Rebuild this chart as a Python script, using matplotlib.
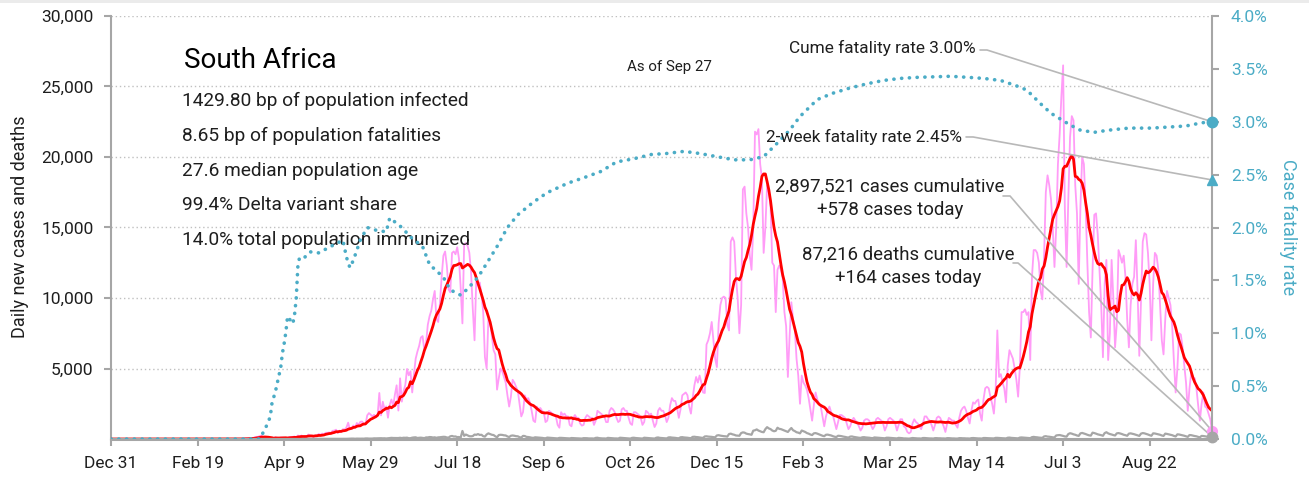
import matplotlib
matplotlib.use("Agg")
import numpy as np
import pandas as pd
import matplotlib.pyplot as plt
import matplotlib.dates as mdates
from matplotlib import font_manager as fm
from matplotlib.patches import Rectangle
from matplotlib.ticker import FixedLocator, FuncFormatter

# ---------------------------------------------------------------- fonts
_names = {f.name for f in fm.fontManager.ttflist}
if "Liberation Sans Narrow" in _names:
    FAMILY = "Liberation Sans Narrow"
    SIZES = dict(tick=14.5, axis=15, title=24, profile=17, note=12.5,
                 callout=15, callout2=15)
else:
    FAMILY = "Roboto"
    SIZES = dict(tick=12.5, axis=13, title=20, profile=13.8, note=10.8,
                 callout=12.4, callout2=13.4)
plt.rcParams["font.family"] = [FAMILY, "DejaVu Sans"]

# ---------------------------------------------------------------- data
country = "South Africa"
as_of = "As of Sep 27"
profile_lines = [
    "1429.80 bp of population infected",
    "8.65 bp of population fatalities",
    "27.6 median population age",
    "99.4% Delta variant share",
    "14.0% total population immunized",
]
period_start = "2019-12-31"
last_day = "2021-09-27"

cume_cases = 2897521
cume_deaths = 87216
cume_cfr = 3.00
two_week_cfr = 2.45

# daily new cases, one row per week (Sun..Sat), from 2020-03-01 to the last day
daily_cases = [
    0, 0, 0, 0, 1, 0, 1,
    1, 0, 4, 6, 3, 7, 14,
    13, 11, 23, 31, 34, 52, 38,
    34, 128, 152, 155, 218, 243, 17,
    93, 73, 82, 27, 82, 43, 123,
    63, 68, 99, 96, 89, 69, 25,
    145, 143, 148, 178, 99, 251, 142,
    251, 138, 196, 165, 318, 267, 188,
    143, 263, 247, 354, 297, 385, 304,
    447, 437, 463, 424, 583, 595, 661,
    424, 595, 511, 698, 665, 817, 1160,
    676, 767, 958, 803, 1134, 1003, 1218,
    1240, 1065, 1032, 1673, 1837, 1727, 1605,
    1716, 1525, 1674, 3267, 1674, 2642, 2125,
    2312, 1509, 2430, 2801, 2336, 3147, 3809,
    2018, 4302, 2648, 3388, 3825, 4966, 4516,
    4800, 3300, 4600, 5700, 6200, 6600, 7200,
    7300, 6300, 6800, 8100, 8700, 9100, 9900,
    10500, 8500, 8300, 9600, 11500, 13000, 13300,
    12300, 10600, 10400, 13200, 13300, 13100, 13600,
    12800, 10700, 8200, 13800, 13900, 13700, 13200,
    11800, 9200, 7000, 11300, 11000, 11100, 10300,
    9000, 5800, 5000, 8500, 8300, 7300, 6300,
    6000, 3500, 4300, 5000, 4800, 4400, 4000,
    3100, 2300, 3000, 4200, 4000, 3700, 3400,
    2500, 1600, 1900, 3100, 2800, 2900, 2600,
    2000, 1300, 1200, 2300, 2100, 2200, 2000,
    1900, 1200, 1300, 2000, 1900, 1800, 1700,
    1600, 1000, 800, 1900, 1700, 1800, 1600,
    1600, 1000, 900, 1500, 1700, 1500, 1500,
    1100, 950, 1000, 1500, 1700, 1600, 1500,
    1500, 1000, 1300, 2000, 1900, 1800, 1700,
    1600, 1200, 1200, 2000, 2200, 2100, 1900,
    1500, 1200, 1300, 2100, 2200, 2000, 2000,
    1500, 1100, 1000, 1900, 1900, 1800, 1700,
    1500, 1000, 1200, 2000, 1900, 1700, 1800,
    1300, 850, 1100, 2000, 2200, 2000, 2000,
    1700, 1200, 1500, 2400, 2900, 2700, 2700,
    2200, 1500, 2100, 3100, 3200, 3300, 3100,
    2300, 1800, 2900, 3800, 4400, 4000, 4500,
    4000, 3300, 3260, 6700, 7000, 7500, 8300,
    7000, 5700, 5100, 8200, 9500, 10000, 10100,
    10000, 8100, 7700, 14000, 14300, 14000, 11500,
    10000, 7500, 9500, 17700, 17900, 16000, 15000,
    13000, 12000, 15000, 21800, 21600, 21980, 19500,
    18500, 13200, 15000, 18000, 17500, 16500, 12500,
    12300, 9000, 12000, 12300, 12000, 11400, 9000,
    8000, 4400, 7300, 9700, 8500, 7800, 5700,
    4500, 2500, 4500, 4000, 3800, 3500, 2900,
    2100, 1300, 2400, 3300, 2800, 2500, 2300,
    1600, 900, 1600, 2000, 2300, 1900, 1700,
    1200, 700, 1200, 1700, 1700, 1600, 1500,
    1100, 700, 900, 1300, 1500, 1300, 1200,
    900, 600, 800, 1300, 1400, 1400, 1300,
    1000, 700, 900, 1400, 1500, 1400, 1300,
    1100, 600, 900, 1400, 1500, 1400, 1300,
    1100, 600, 1000, 1400, 1400, 900, 800,
    500, 400, 500, 1100, 1400, 1200, 1100,
    900, 700, 1100, 1600, 1600, 1400, 1300,
    1000, 600, 1000, 1500, 1600, 1500, 1200,
    900, 500, 1100, 1500, 1400, 1300, 1300,
    1000, 800, 1500, 2000, 2200, 2300, 2000,
    1500, 1100, 2000, 2600, 2500, 2700, 2800,
    1800, 1300, 2800, 3600, 3700, 3600, 3000,
    2500, 1800, 3400, 7700, 4400, 4600, 4000,
    3600, 2600, 5200, 6300, 6000, 5700, 5000,
    4200, 3000, 5100, 9000, 9000, 9200, 8800,
    9000, 5600, 11500, 13400, 13400, 13200, 12500,
    10500, 9900, 13000, 17500, 18700, 18000, 17000,
    15000, 12200, 15000, 19500, 21600, 24300, 26500,
    16300, 12200, 17000, 21400, 22900, 22600, 18000,
    16000, 11000, 16500, 20000, 19500, 16500, 12500,
    9000, 7200, 12000, 15900, 16000, 14500, 12000,
    9500, 5800, 11000, 12700, 5600, 7500, 12700,
    10000, 6500, 8200, 13400, 13000, 12500, 13000,
    11500, 8500, 6500, 9500, 11000, 11500, 14100,
    10500, 5900, 9800, 14000, 14600, 14500, 13200,
    11000, 7000, 11000, 13200, 13000, 12000, 9500,
    7000, 6000, 8500, 10500, 10000, 9500, 8000,
    5500, 3300, 5000, 7500, 7400, 6500, 5200,
    4000, 2000, 3600, 4700, 4400, 4300, 3600,
    2400, 1300, 2500, 3300, 2300, 2200, 1800,
    1400, 578,
]

# daily new deaths, same calendar as daily_cases
daily_deaths = [
    0, 0, 0, 0, 0, 0, 0,
    0, 0, 0, 0, 0, 0, 0,
    0, 0, 0, 0, 0, 0, 0,
    0, 0, 0, 0, 0, 1, 1,
    1, 2, 0, 4, 2, 7, 2,
    2, 0, 5, 5, 7, 2, 1,
    2, 0, 2, 7, 7, 4, 4,
    2, 8, 0, 10, 15, 4, 8,
    6, 5, 6, 10, 10, 7, 8,
    5, 7, 17, 10, 9, 10, 13,
    11, 13, 12, 12, 10, 12, 18,
    25, 27, 27, 17, 27, 22, 22,
    26, 22, 38, 40, 28, 28, 30,
    47, 44, 51, 52, 56, 46, 51,
    37, 50, 56, 82, 71, 72, 70,
    68, 87, 65, 90, 85, 95, 56,
    60, 95, 111, 119, 71, 87, 95,
    80, 62, 112, 111, 138, 131, 105,
    119, 85, 116, 124, 142, 155, 150,
    108, 96, 190, 216, 175, 180, 135,
    140, 102, 570, 225, 316, 260, 200,
    190, 210, 315, 295, 350, 290, 300,
    200, 170, 320, 400, 350, 300, 280,
    190, 120, 280, 300, 290, 260, 250,
    180, 140, 230, 250, 230, 200, 190,
    130, 100, 220, 210, 150, 140, 120,
    90, 80, 120, 110, 100, 90, 80,
    60, 50, 100, 90, 80, 70, 60,
    50, 40, 80, 80, 70, 60, 55,
    50, 40, 70, 60, 55, 50, 45,
    40, 30, 60, 60, 55, 40, 40,
    40, 30, 80, 90, 60, 50, 40,
    40, 30, 80, 70, 60, 50, 40,
    40, 30, 90, 80, 70, 60, 50,
    40, 30, 80, 90, 70, 60, 50,
    40, 30, 90, 80, 70, 60, 50,
    40, 30, 90, 110, 80, 70, 60,
    50, 40, 110, 120, 100, 90, 80,
    60, 50, 120, 130, 110, 100, 90,
    70, 60, 150, 160, 140, 130, 110,
    90, 80, 180, 190, 170, 160, 150,
    130, 120, 250, 270, 240, 220, 200,
    190, 170, 350, 380, 330, 300, 250,
    240, 230, 420, 470, 450, 380, 350,
    330, 300, 590, 620, 680, 600, 550,
    500, 480, 700, 840, 750, 700, 600,
    550, 580, 800, 720, 700, 650, 600,
    550, 500, 650, 780, 620, 560, 480,
    450, 400, 600, 550, 500, 420, 380,
    320, 280, 400, 420, 380, 330, 280,
    230, 200, 300, 310, 280, 250, 200,
    160, 140, 230, 220, 200, 170, 150,
    120, 100, 170, 180, 150, 130, 110,
    90, 80, 120, 130, 110, 100, 90,
    70, 60, 110, 100, 90, 80, 70,
    60, 50, 90, 90, 80, 70, 60,
    50, 40, 80, 70, 60, 40, 40,
    30, 25, 50, 70, 60, 50, 40,
    40, 30, 70, 70, 60, 50, 40,
    40, 30, 60, 60, 50, 50, 40,
    40, 30, 60, 60, 50, 40, 40,
    30, 30, 60, 60, 50, 50, 40,
    40, 30, 60, 70, 60, 50, 40,
    40, 30, 70, 70, 60, 55, 50,
    45, 40, 80, 80, 70, 60, 55,
    50, 40, 90, 100, 80, 70, 60,
    50, 45, 100, 110, 100, 90, 80,
    70, 60, 130, 150, 130, 120, 100,
    90, 80, 180, 200, 170, 160, 140,
    120, 110, 250, 270, 280, 250, 220,
    180, 170, 350, 410, 380, 330, 300,
    250, 220, 400, 430, 390, 350, 300,
    260, 240, 450, 420, 380, 330, 300,
    270, 230, 420, 480, 400, 350, 320,
    280, 250, 400, 420, 390, 350, 300,
    270, 230, 380, 400, 370, 340, 300,
    260, 220, 380, 420, 400, 360, 320,
    270, 230, 400, 390, 360, 330, 300,
    250, 220, 380, 360, 330, 300, 270,
    220, 180, 330, 320, 290, 260, 230,
    190, 150, 280, 270, 240, 210, 190,
    150, 120, 220, 210, 190, 170, 150,
    110, 164,
]

# cumulative case fatality rate (%)
cfr_dates = [
    "2019-12-31", "2020-03-26", "2020-03-30", "2020-04-01", "2020-04-02",
    "2020-04-04", "2020-04-06", "2020-04-07", "2020-04-08", "2020-04-09",
    "2020-04-10", "2020-04-11", "2020-04-14", "2020-04-15", "2020-04-16",
    "2020-04-17", "2020-04-18", "2020-04-21", "2020-04-24", "2020-04-29",
    "2020-05-07", "2020-05-13", "2020-05-15", "2020-05-17", "2020-05-19",
    "2020-05-23", "2020-05-27", "2020-06-02", "2020-06-07", "2020-06-09",
    "2020-06-13", "2020-06-16", "2020-06-21", "2020-06-28", "2020-07-02",
    "2020-07-10", "2020-07-14", "2020-07-20", "2020-07-24", "2020-07-30",
    "2020-08-04", "2020-08-10", "2020-08-16", "2020-08-22", "2020-08-31",
    "2020-09-08", "2020-09-20", "2020-09-29", "2020-10-09", "2020-10-18",
    "2020-10-28", "2020-11-07", "2020-11-16", "2020-11-26", "2020-12-05",
    "2020-12-15", "2020-12-25", "2021-01-03", "2021-01-11", "2021-01-19",
    "2021-01-26", "2021-02-01", "2021-02-11", "2021-02-20", "2021-03-02",
    "2021-03-12", "2021-03-21", "2021-03-31", "2021-04-10", "2021-04-29",
    "2021-05-09", "2021-05-18", "2021-05-28", "2021-06-06", "2021-06-12",
    "2021-06-20", "2021-06-26", "2021-07-02", "2021-07-07", "2021-07-13",
    "2021-07-21", "2021-07-29", "2021-08-10", "2021-08-23", "2021-09-02",
    "2021-09-12", "2021-09-21", "2021-09-27",
]
cfr_pct = [
    0.00, 0.00, 0.13, 0.21, 0.34,
    0.45, 0.60, 0.67, 0.81, 0.90,
    1.01, 1.16, 1.09, 1.17, 1.33,
    1.65, 1.72, 1.72, 1.77, 1.76,
    1.83, 1.88, 1.72, 1.62, 1.69,
    1.88, 2.00, 1.97, 1.96, 2.09,
    2.04, 2.00, 1.91, 1.82, 1.65,
    1.53, 1.41, 1.36, 1.42, 1.53,
    1.66, 1.82, 2.00, 2.12, 2.24,
    2.33, 2.42, 2.47, 2.53, 2.62,
    2.65, 2.69, 2.70, 2.72, 2.70,
    2.67, 2.64, 2.64, 2.67, 2.80,
    2.92, 3.05, 3.21, 3.27, 3.32,
    3.36, 3.39, 3.41, 3.42, 3.43,
    3.42, 3.41, 3.39, 3.34, 3.30,
    3.17, 3.08, 3.02, 2.97, 2.92,
    2.90, 2.92, 2.94, 2.94, 2.95,
    2.96, 2.99, 3.00,
]

x_tick_dates = [
    "2019-12-31", "2020-02-19", "2020-04-09", "2020-05-29", "2020-07-18",
    "2020-09-06", "2020-10-26", "2020-12-15", "2021-02-03", "2021-03-25",
    "2021-05-14", "2021-07-03", "2021-08-22",
]
case_ticks = [5000, 10000, 15000, 20000, 25000, 30000]
cfr_ticks = [0.0, 0.5, 1.0, 1.5, 2.0, 2.5, 3.0, 3.5, 4.0]

# ---------------------------------------------------------------- series
days = pd.date_range(period_start, last_day, freq="D")
cases = pd.Series(daily_cases, index=pd.date_range(end=last_day, periods=len(daily_cases)))
cases = cases.reindex(days, fill_value=0)
deaths = pd.Series(daily_deaths, index=pd.date_range(end=last_day, periods=len(daily_deaths)))
deaths = deaths.reindex(days, fill_value=0)
cases_avg7 = cases.rolling(7, min_periods=1).mean()
cfr = pd.Series(cfr_pct, index=pd.to_datetime(cfr_dates))
end = days[-1]

# ---------------------------------------------------------------- colours
PINK = "#ff9cf7"
RED = "#ff0000"
GREY = "#a6a6a6"
BLUE = "#4bacc6"
AXIS = "#a6a6a6"
INK = "#1e1e1e"
LEADER = "#b8b8b8"

# ---------------------------------------------------------------- figure
W, H = 1309, 484
fig = plt.figure(figsize=(W / 100, H / 100), dpi=100)
fig.patches.append(Rectangle((0, 1 - 3 / H), 1, 3 / H, transform=fig.transFigure,
                             facecolor="#ebebeb", edgecolor="none"))
ax = fig.add_axes([111 / W, 45 / H, 1101 / W, 423 / H])
ax2 = ax.twinx()

ax.plot(days, cases, color=PINK, lw=1.3, zorder=2, solid_joinstyle="round")
ax.plot(days, cases_avg7, color=RED, lw=2.0, zorder=3, solid_joinstyle="round")
ax.plot(days, deaths, color=GREY, lw=1.6, zorder=4, solid_joinstyle="round")
ax2.plot(cfr.index, cfr.values, color=BLUE, lw=2.6, linestyle=(0, (0.05, 2.1)),
         dash_capstyle="round", zorder=3)

# end-of-series markers
ax.plot([end], [cases.iloc[-1]], "o", color=PINK, ms=7, clip_on=False, zorder=6)
ax.plot([end], [deaths.iloc[-1]], "o", color=GREY, ms=7.5, clip_on=False, zorder=7)
ax2.plot([end], [cume_cfr], "o", color=BLUE, ms=7.5, clip_on=False, zorder=6)
ax2.plot([end], [two_week_cfr], "^", color=BLUE, ms=7.5, clip_on=False, zorder=6)

# axes limits and ticks
ax.set_xlim(days[0], end)
ax.set_ylim(0, 30000)
ax2.set_ylim(0, 4)

ax.xaxis.set_major_locator(FixedLocator(mdates.date2num(pd.to_datetime(x_tick_dates))))
ax.xaxis.set_major_formatter(FuncFormatter(
    lambda v, p: (lambda d: f"{d:%b} {d.day}")(mdates.num2date(v))))
ax.yaxis.set_major_locator(FixedLocator(case_ticks))
ax.yaxis.set_major_formatter(FuncFormatter(lambda v, p: f"{v:,.0f}"))
ax2.yaxis.set_major_locator(FixedLocator(cfr_ticks))
ax2.yaxis.set_major_formatter(FuncFormatter(lambda v, p: f"{v:.1f}%"))

ax.tick_params(axis="x", length=5, width=1.5, color=AXIS, pad=7,
               labelsize=SIZES["tick"], labelcolor=INK)
ax.tick_params(axis="y", length=5, width=1.5, color=AXIS, pad=7.5,
               labelsize=SIZES["tick"], labelcolor=INK)
ax2.tick_params(axis="y", length=5, width=1.5, color=AXIS, pad=8.5,
                labelsize=SIZES["tick"], labelcolor=BLUE)

ax.yaxis.grid(True, linestyle=(0, (1, 2)), color="#c0c0c0", lw=1.0)
ax.set_axisbelow(True)

for s in ("top", "right"):
    ax.spines[s].set_visible(False)
for s in ("top", "left", "bottom"):
    ax2.spines[s].set_visible(False)
ax.spines["left"].set_color(AXIS)
ax.spines["left"].set_linewidth(1.5)
ax.spines["bottom"].set_color(AXIS)
ax.spines["bottom"].set_linewidth(2.2)
ax2.spines["right"].set_color(AXIS)
ax2.spines["right"].set_linewidth(1.5)

# axis titles
fig.text(20 / W, 1 - 227 / H, "Daily new cases and deaths", rotation=90,
         ha="center", va="center", fontsize=SIZES["axis"], color=INK)
fig.text(1288 / W, 1 - 227 / H, "Case fatality rate", rotation=270,
         ha="center", va="center", fontsize=SIZES["axis"], color=BLUE)

# country profile
ax.text(0.0663, 0.894, country, transform=ax.transAxes, ha="left", va="center",
        fontsize=SIZES["title"], color="black", zorder=8)
for i, line in enumerate(profile_lines):
    ax.text(0.0645, 0.799 - i * 0.0823, line, transform=ax.transAxes,
            ha="left", va="center", fontsize=SIZES["profile"], color=INK, zorder=8)
ax.text(0.507, 0.879, as_of, transform=ax.transAxes, ha="center", va="center",
        fontsize=SIZES["note"], color=INK)

# callouts with leader lines to the end markers
ax2.text(0.7857, 0.924, f"Cume fatality rate {cume_cfr:.2f}%", transform=ax.transAxes,
         ha="right", va="center", fontsize=SIZES["callout"], color=INK)
ax2.text(0.7729, 0.714, f"2-week fatality rate {two_week_cfr:.2f}%", transform=ax.transAxes,
         ha="right", va="center", fontsize=SIZES["callout"], color=INK)
ax2.text(0.7075, 0.569,
         f"{cume_cases:,} cases cumulative\n+{cases.iloc[-1]:,} cases today",
         transform=ax.transAxes, ha="center", va="center", fontsize=SIZES["callout2"],
         color=INK, linespacing=1.4)
ax2.text(0.724, 0.409,
         f"{cume_deaths:,} deaths cumulative\n+{deaths.iloc[-1]:,} cases today",
         transform=ax.transAxes, ha="center", va="center", fontsize=SIZES["callout2"],
         color=INK, linespacing=1.4)


def leader(axis, start, arm, target):
    axis.annotate("", xy=target, xycoords="data", xytext=start,
                  textcoords=ax.transAxes,
                  arrowprops=dict(arrowstyle="-", color=LEADER, lw=1.2,
                                  shrinkA=0, shrinkB=0,
                                  connectionstyle=f"arc,angleA=0,armA={arm},angleB=0,armB=0,rad=0"),
                  annotation_clip=False, zorder=5)


leader(ax2, (0.7893, 0.9196), 7, (end, cume_cfr))
leader(ax2, (0.7766, 0.7140), 7, (end, two_week_cfr))
leader(ax, (0.8102, 0.5745), 7, (end, cases.iloc[-1]))
leader(ax, (0.8193, 0.4161), 5, (end, deaths.iloc[-1]))

fig.savefig("out.png", dpi=100)
